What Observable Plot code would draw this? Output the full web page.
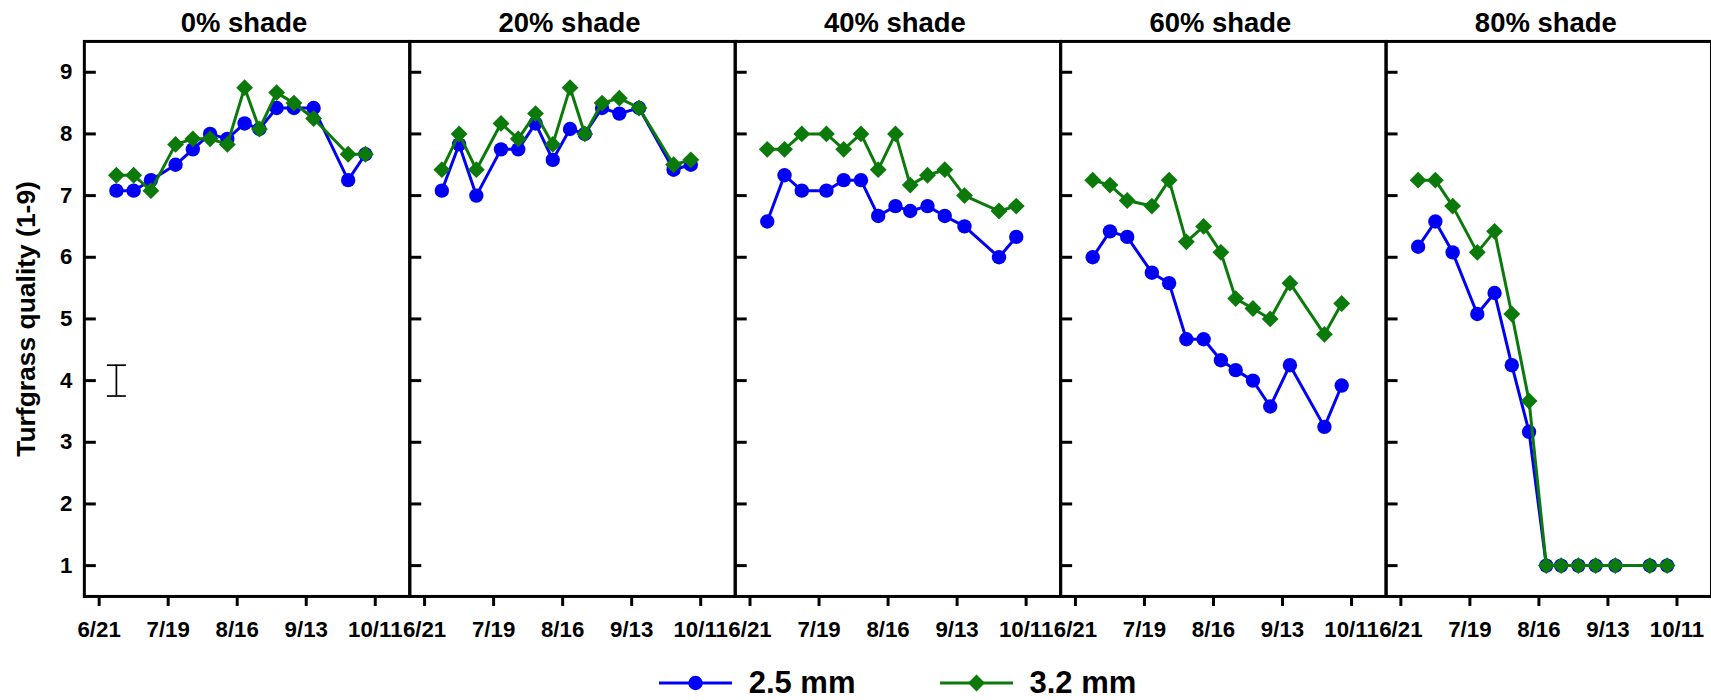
<!DOCTYPE html>
<html><head><meta charset="utf-8">
<script src="https://cdn.jsdelivr.net/npm/d3@7"></script>
<script src="https://cdn.jsdelivr.net/npm/@observablehq/plot@0.6"></script>
<style>
html,body{margin:0;padding:0;background:#fff;overflow:hidden;}
#chart svg{display:block;}
#legend{display:flex;justify-content:center;align-items:center;height:48px;padding-left:84px;width:1627px;font:bold 31px "Liberation Sans",Arial,sans-serif;color:#000;}
.item{display:flex;align-items:center;}
.item span{margin-left:17px;}
.item + .item{margin-left:84px;}
</style></head><body>
<div id="chart"></div><div id="legend"></div>
<script>
// ---- data ----
const shadeLabels = ["0% shade", "20% shade", "40% shade", "60% shade", "80% shade"];
const seriesLabels = ["2.5 mm", "3.2 mm"];
const sampleDates = ["2019-06-28","2019-07-05","2019-07-12","2019-07-22","2019-07-29","2019-08-05","2019-08-12","2019-08-19","2019-08-25","2019-09-01","2019-09-08","2019-09-16","2019-09-30","2019-10-07"];
const xDomain = ["2019-06-15", "2019-10-25"];
const xTickDates = ["2019-06-21","2019-07-19","2019-08-16","2019-09-13","2019-10-11"];
const yTicks = [1, 2, 3, 4, 5, 6, 7, 8, 9];
const yLabel = "Turfgrass quality (1-9)";

const shade0_25 = [7.08,7.08,7.25,7.5,7.75,8.0,7.92,8.17,8.08,8.42,8.42,8.42,7.25,7.67];
const shade0_32 = [7.33,7.33,7.08,7.83,7.92,7.92,7.83,8.75,8.08,8.67,8.5,8.25,7.67,7.67];
const shade20_25 = [7.08,7.83,7.0,7.75,7.75,8.17,7.58,8.08,8.0,8.42,8.33,8.42,7.42,7.5];
const shade20_32 = [7.42,8.0,7.42,8.17,7.92,8.33,7.83,8.75,8.0,8.5,8.58,8.42,7.5,7.58];
const shade40_25 = [6.58,7.33,7.08,7.08,7.25,7.25,6.67,6.83,6.75,6.83,6.67,6.5,6.0,6.33];
const shade40_32 = [7.75,7.75,8.0,8.0,7.75,8.0,7.42,8.0,7.17,7.33,7.42,7.0,6.75,6.83];
const shade60_25 = [6.0,6.42,6.33,5.75,5.58,4.67,4.67,4.33,4.17,4.0,3.58,4.25,3.25,3.92];
const shade60_32 = [7.25,7.17,6.92,6.83,7.25,6.25,6.5,6.08,5.33,5.17,5.0,5.58,4.75,5.25];
const shade80_25 = [6.17,6.58,6.08,5.08,5.42,4.25,3.17,1,1,1,1,1,1,1];
const shade80_32 = [7.25,7.25,6.83,6.08,6.42,5.08,3.67,1,1,1,1,1,1,1];

// error bar (shown in first panel)
const errShade = "0% shade";
const errDate = "2019-06-28";
const errMid = 4;
const errHalf = 0.25;

const seriesColors = ["#0000f5", "#0b7a0b"];

// ---- build table ----
const parse = d3.utcParse("%Y-%m-%d");
const bySeries = [
  [shade0_25, shade20_25, shade40_25, shade60_25, shade80_25],
  [shade0_32, shade20_32, shade40_32, shade60_32, shade80_32]
];
const rows = [[], []];
bySeries.forEach((arrs, mi) => arrs.forEach((vals, si) => vals.forEach((v, i) =>
  rows[mi].push({shade: shadeLabels[si], mm: seriesLabels[mi], date: parse(sampleDates[i]), q: v}))));

const errRow = [{shade: errShade, date: parse(errDate), lo: errMid - errHalf, hi: errMid + errHalf}];
const errCaps = [{shade: errShade, date: parse(errDate), y: errMid - errHalf}, {shade: errShade, date: parse(errDate), y: errMid + errHalf}];
const capSymbol = {draw(ctx, size) { const w = Math.sqrt(size / Math.PI); ctx.moveTo(-w, 0); ctx.lineTo(w, 0); }};

const chart = Plot.plot({
  width: 1714, height: 660,
  marginLeft: 84, marginRight: 0, marginTop: 41, marginBottom: 63,
  style: {fontFamily: '"Liberation Sans", Arial, sans-serif', fontWeight: "bold", color: "#000", background: "#fff", overflow: "visible"},
  x: {type: "utc", domain: xDomain.map(parse)},
  y: {domain: [0.5, 9.5]},
  fx: {domain: shadeLabels, padding: 0},
  marks: [
    Plot.axisFx({anchor: "top", tickSize: 0, tickPadding: 9, fontSize: 27.5, label: null, dx: -3}),
    Plot.axisX({ticks: xTickDates.map(parse), tickFormat: d3.utcFormat("%-m/%-d"), tickSize: 10, strokeWidth: 3, tickPadding: 15, fontSize: 22.3, label: null}),
    Plot.axisY({ticks: yTicks, tickSize: 0, tickPadding: 12, fontSize: 22.3, label: null}),
    Plot.axisY({ticks: yTicks, tickSize: -12, strokeWidth: 3, tickFormat: () => "", label: null, facetAnchor: null}),
    Plot.axisY({ticks: yTicks, tickSize: 0, tickFormat: () => "", label: yLabel, labelAnchor: "center", labelOffset: 68, labelArrow: "none", fontSize: 26.5}),
    Plot.frame({strokeWidth: 3}),
    Plot.ruleX(errRow, {x: "date", y1: "lo", y2: "hi", fx: "shade", stroke: "#000", strokeWidth: 1.7}),
    Plot.dot(errCaps, {x: "date", y: "y", fx: "shade", symbol: capSymbol, r: 9.5, stroke: "#000", strokeWidth: 1.7, fill: "none"}),
    Plot.line(rows[0], {x: "date", y: "q", fx: "shade", stroke: seriesColors[0], strokeWidth: 3}),
    Plot.dot(rows[0], {x: "date", y: "q", fx: "shade", symbol: "circle", r: 7.2, fill: seriesColors[0], stroke: null}),
    Plot.line(rows[1], {x: "date", y: "q", fx: "shade", stroke: seriesColors[1], strokeWidth: 3}),
    Plot.dot(rows[1], {x: "date", y: "q", fx: "shade", symbol: "diamond2", r: 7.6, fill: seriesColors[1], stroke: null})
  ]
});
document.getElementById("chart").appendChild(chart);

// ---- legend ----
const legend = d3.select("#legend");
seriesLabels.forEach((lab, i) => {
  const item = legend.append("div").attr("class", "item");
  const svg = item.append("svg").attr("width", 73).attr("height", 22);
  svg.append("line").attr("x1", 0).attr("x2", 73).attr("y1", 11).attr("y2", 11)
    .attr("stroke", seriesColors[i]).attr("stroke-width", 3);
  svg.append("path").attr("transform", "translate(36.5,11)")
    .attr("d", d3.symbol(i === 0 ? d3.symbolCircle : d3.symbolDiamond2, i === 0 ? Math.PI * 52 : Math.PI * 58)())
    .attr("fill", seriesColors[i]);
  item.append("span").text(lab);
});
</script></body></html>
